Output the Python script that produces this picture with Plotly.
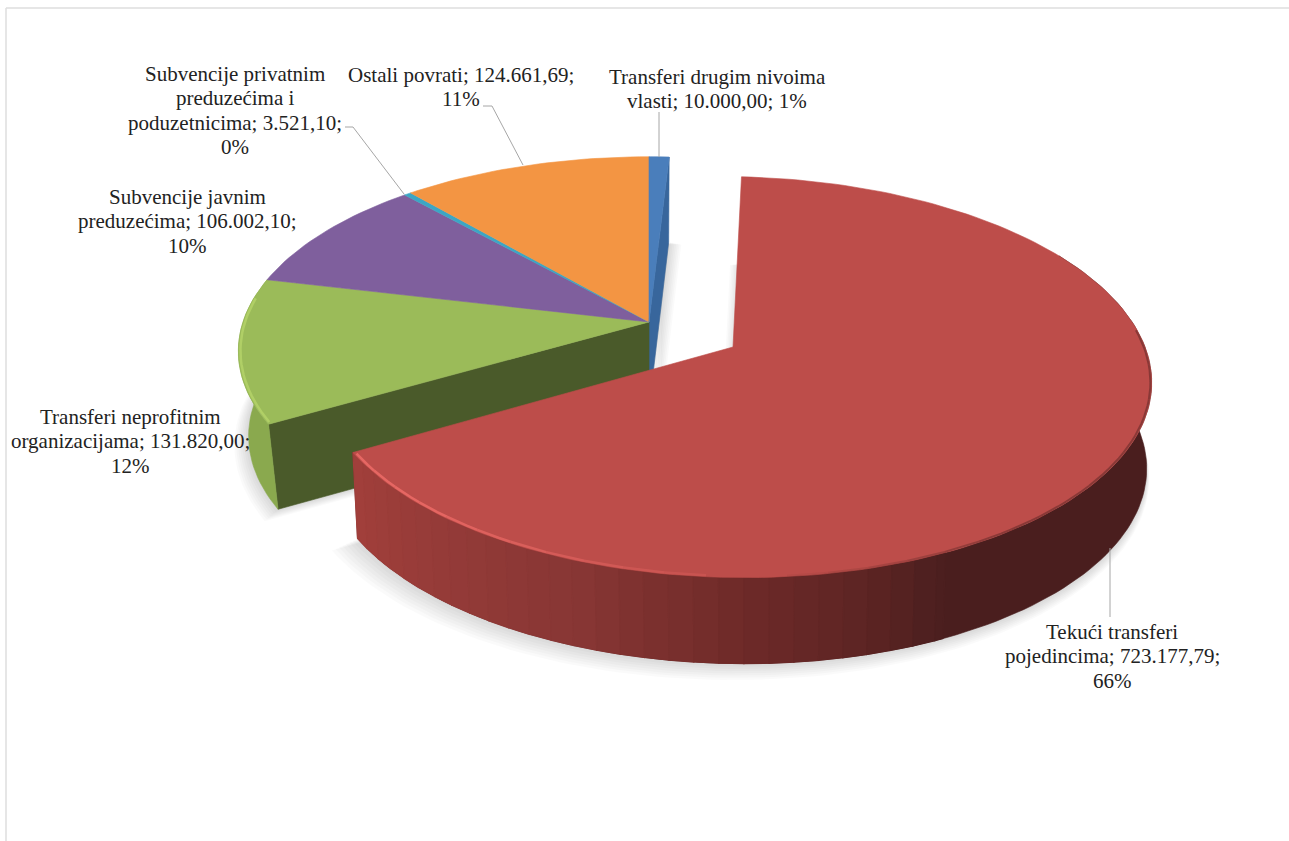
import math
import plotly.graph_objects as go

# ---- data ----
categories = ["Transferi drugim nivoima vlasti", "Tekući transferi pojedincima",
              "Transferi neprofitnim organizacijama", "Subvencije javnim preduzećima",
              "Subvencije privatnim preduzećima i poduzetnicima", "Ostali povrati"]
values = [10000.00, 723177.79, 131820.00, 106002.10, 3521.10, 124661.69]
top_colors = ["#4a7ebb", "#bd4d4a", "#9bbb59", "#7f5f9d", "#3ca6c4", "#f39543"]
label_lines = [
    ["Transferi drugim nivoima", "vlasti; 10.000,00; 1%"],
    ["Tekući transferi", "pojedincima; 723.177,79;", "66%"],
    ["Transferi neprofitnim", "organizacijama; 131.820,00;", "12%"],
    ["Subvencije javnim", "preduzećima; 106.002,10;", "10%"],
    ["Subvencije privatnim", "preduzećima i", "poduzetnicima; 3.521,10;", "0%"],
    ["Ostali povrati; 124.661,69;", "11%"],
]
label_pos = [(717, 77), (1112, 632), (130, 417), (187, 197), (235, 74), (461, 75)]
leaders = [
    [(659, 112), (659, 157)],
    [(1110, 548), (1110, 617)],
    [(345, 127), (353, 127), (404, 194)],
    [(483, 106), (492, 106), (523, 165)],
]

# ---- 3D-look projection ----
K = 0.15
MAIN = dict(cx=649, cy=322, rx=406, ry=190, T=85, B=0.975, skew=0)
RED = dict(cx=733, cy=347, rx=412, ry=196, T=86, B=0.988, skew=12)

total = sum(values)
bounds = [0]
for val in values:
    bounds.append(bounds[-1] + 360 * val / total)


def pt(g, deg, r=1.0, bottom=False, grow=1.0, dx=0, dy=0):
    t = math.radians(deg)
    u, v = r * math.sin(t), -r * math.cos(t)
    s = 1 / (1 - K * v)
    b = g["B"] if bottom else 1.0
    x = g["cx"] + g["rx"] * b * grow * u * s + g["skew"] * v + dx
    y = g["cy"] + (g["T"] if bottom else 0) + g["ry"] * grow * v * s + dy
    return x, y


def arc(g, a, b, **kw):
    n = max(2, int(abs(b - a) / 1.5) + 1)
    return [pt(g, a + (b - a) * i / (n - 1), **kw) for i in range(n)]


fig = go.Figure()


def poly(points, color, line=None, width=0.6):
    fig.add_trace(go.Scatter(
        x=[p[0] for p in points] + [points[0][0]],
        y=[p[1] for p in points] + [points[0][1]],
        mode="lines", fill="toself", fillcolor=color,
        line=dict(color=line or color, width=width if line or not color.startswith("rgba") else 0),
        hoverinfo="skip", showlegend=False))


def stroke(points, color, width):
    fig.add_trace(go.Scatter(
        x=[p[0] for p in points], y=[p[1] for p in points], mode="lines",
        line=dict(color=color, width=width), hoverinfo="skip", showlegend=False))


def hex2(c):
    return [int(c[i:i + 2], 16) for i in (1, 3, 5)]


def ramp(stops, deg):
    stops = sorted(stops)
    if deg <= stops[0][0]:
        return stops[0][1]
    for (a, ca), (b, cb) in zip(stops, stops[1:]):
        if deg <= b:
            f = (deg - a) / (b - a)
            p, q = hex2(ca), hex2(cb)
            return "#%02x%02x%02x" % tuple(round(p[i] + (q[i] - p[i]) * f) for i in range(3))
    return stops[-1][1]


def shadow(g, a, b, shift=0):
    for d in (15, 13, 11, 9, 7, 5, 3, 1):
        kw = dict(bottom=True, grow=1 + d / 420, dx=shift * d, dy=d * 0.55)
        poly([pt(g, a, r=0, **kw)] + arc(g, a, b, **kw), "rgba(0,0,0,0.019)")


# main group: everything except the pulled-out slice
b = bounds
end = 360 + b[1]
shadow(MAIN, b[2], end)
shadow(MAIN, 0, b[1], shift=0.8)

# blue cut face
poly([pt(MAIN, b[1], r=0), pt(MAIN, b[1]), pt(MAIN, b[1], bottom=True),
      pt(MAIN, b[1], r=0, bottom=True)], "#38669c")
# green cut face
poly([pt(MAIN, b[2], r=0), pt(MAIN, b[2]), pt(MAIN, b[2], bottom=True),
      pt(MAIN, b[2], r=0, bottom=True)], "#4a5a2a")
# green outer wall
wall = arc(MAIN, b[2], b[3]) + arc(MAIN, b[3], b[2], bottom=True)
poly(wall, "#8aa94e")

# top faces of the main group
for i in (2, 3, 4, 5):
    poly([pt(MAIN, b[i], r=0)] + arc(MAIN, b[i], b[i + 1]), top_colors[i])
poly([pt(MAIN, 0, r=0)] + arc(MAIN, 0, b[1]), top_colors[0])

# green rim highlight
stroke(arc(MAIN, b[2] + 0.5, b[3] - 6, r=0.995), "#b0cf66", 2.5)

# pulled-out slice
shadow(RED, b[1], b[2], shift=-0.8)
red_stops = [(240, "#a23f3b"), (220, "#953b38"), (200, "#873634"), (180, "#6e2a28"),
             (165, "#5c2423"), (155, "#4b1f1f"), (60, "#4a1e1e")]
poly(arc(RED, 60, b[2]) + arc(RED, b[2], 60, bottom=True), "#4a1e1e")
deg = b[2]
step = 3.0
while deg > 155:
    nxt = max(155, deg - step)
    c = ramp(red_stops, (deg + nxt) / 2)
    poly([pt(RED, deg), pt(RED, nxt), pt(RED, nxt, bottom=True), pt(RED, deg, bottom=True)], c, line=c, width=1.2)
    deg = nxt
poly([pt(RED, b[1], r=0)] + arc(RED, b[1], b[2]), top_colors[1])

# red rim highlight, fading towards the front
deg = b[2] - 0.5
while deg > 185:
    f = (deg - 185) / (b[2] - 185)
    stroke(arc(RED, deg, deg - 5, r=0.995), "rgba(232,104,100,%.2f)" % min(0.95, 0.2 + f), 2.5)
    deg -= 5
# soft dark edge on the shaded side, fading in
deg = 175
while deg > 85:
    stroke(arc(RED, deg, deg - 5, r=0.997), "rgba(120,50,48,%.2f)" % min(0.75, 0.1 + (175 - deg) / 40), 2)
    deg -= 5

# leader lines
for seg in leaders:
    stroke(seg, "#a6a6a6", 1)

LINE_STEP = 24.3
annotations = [
    dict(x=p[0], y=p[1] + j * LINE_STEP, xref="x", yref="y", text=line, showarrow=False,
         xanchor="center", yanchor="middle",
         font=dict(family="Liberation Serif", size=21, color="#222222"))
    for lines, p in zip(label_lines, label_pos)
    for j, line in enumerate(lines)
]

fig.update_layout(
    width=1289, height=841, margin=dict(l=0, r=0, t=0, b=0),
    paper_bgcolor="white", plot_bgcolor="white", showlegend=False,
    xaxis=dict(range=[0, 1289], visible=False, fixedrange=True),
    yaxis=dict(range=[841, 0], visible=False, fixedrange=True),
    annotations=annotations,
    shapes=[
        dict(type="line", x0=6, x1=1289, y0=8, y1=8, line=dict(color="#dedede", width=1.5)),
        dict(type="line", x0=6, x1=6, y0=8, y1=841, line=dict(color="#dedede", width=1.5)),
    ],
)
fig.write_html("out.html", config=dict(displayModeBar=False),
               post_script="document.body.style.margin='0';document.body.style.overflow='hidden';")
